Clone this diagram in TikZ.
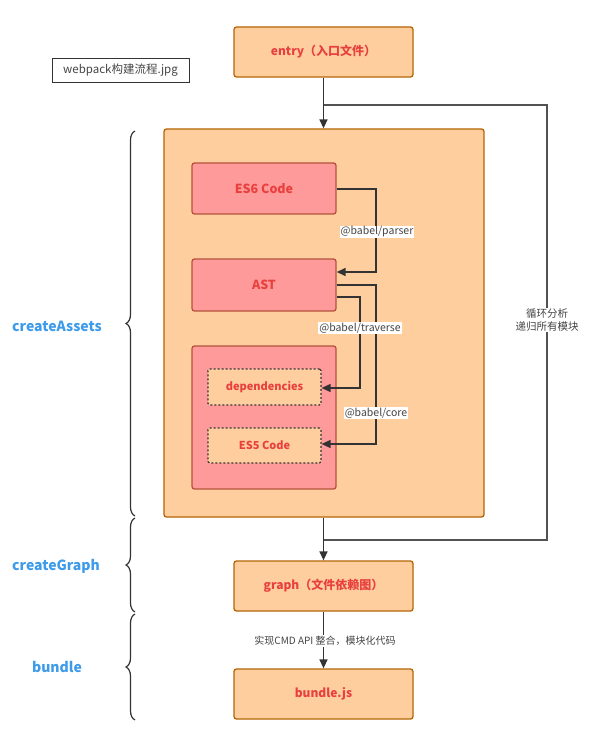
\documentclass[tikz,border=0pt]{standalone}
\usepackage{fontspec}
\setmainfont{Noto Sans CJK SC}
\usetikzlibrary{decorations.pathreplacing,arrows.meta}
\definecolor{ofill}{HTML}{FFCE9F}
\definecolor{odraw}{HTML}{B46504}
\definecolor{rfill}{HTML}{FF9A9A}
\definecolor{rdraw}{HTML}{B5533C}
\definecolor{rtext}{HTML}{E8403F}
\definecolor{btext}{HTML}{3D9BE9}
\definecolor{ln}{HTML}{333333}
\definecolor{gtxt}{HTML}{444444}
\tikzset{
  obox/.style={draw=odraw, fill=ofill, line width=1.3pt, rounded corners=2.5pt, inner sep=0pt, font=\fontsize{12}{14}\selectfont\bfseries, text=rtext},
  rbox/.style={draw=rdraw, fill=rfill, line width=1.3pt, rounded corners=2.5pt, inner sep=0pt, font=\fontsize{12.5}{14}\selectfont\bfseries, text=rtext},
  dbox/.style={draw=ln, fill=ofill, line width=1.2pt, dash pattern=on 2pt off 2pt, rounded corners=1.5pt, inner sep=0pt, font=\fontsize{11}{13}\selectfont\bfseries, text=rtext},
  arr/.style={draw=ln, line width=1.4pt, -{Triangle[length=9pt,width=8pt]}},
  plain/.style={draw=ln, line width=1.4pt},
  loopline/.style={draw=ln!85, line width=1.2pt},
  lbl/.style={fill=white, inner sep=1pt, text=gtxt, font=\fontsize{10.5}{12}\selectfont},
  side/.style={text=btext, font=\fontsize{14}{16}\selectfont\bfseries},
  brc/.style={draw=ln, line width=1.2pt, decorate, decoration={brace, amplitude=9pt}},
}
\begin{document}
\begin{tikzpicture}[x=1pt,y=-1pt]
\useasboundingbox (0,0) rectangle (591,730);
% title label
\node[draw=ln, line width=0.8pt, minimum width=137pt, minimum height=24pt, inner sep=0pt, text=gtxt, font=\fontsize{11.5}{13}\selectfont] (title) at (120.5,70) {webpack构建流程.jpg};
% main chain
\node[obox, minimum width=179pt, minimum height=50pt] (entry) at (323.5,52) {entry（入口文件）};
\node[obox, minimum width=320pt, minimum height=388pt] (big) at (324,323) {};
\node[rbox, minimum width=144pt, minimum height=51pt] (es6) at (264,188.5) {ES6 Code};
\node[rbox, minimum width=144pt, minimum height=52pt] (ast) at (264,285) {AST};
\node[rbox, minimum width=144pt, minimum height=143pt] (inner) at (264,417.5) {};
\node[dbox, minimum width=113pt, minimum height=36pt] (deps) at (264.5,387) {dependencies};
\node[dbox, minimum width=113pt, minimum height=35pt] (es5) at (264.5,445.5) {ES5 Code};
\node[obox, minimum width=179pt, minimum height=50pt] (graph) at (323.5,586) {graph（文件依赖图）};
\node[obox, minimum width=179pt, minimum height=50pt] (bundle) at (323.5,694) {bundle.js};
% coordinates
\coordinate (lp1) at (323.5,105);
\coordinate (lp2) at (323.5,540);
% loop
\draw[loopline] (lp1) -- (547,105) -- (547,540) -- (lp2);
\node[lbl, align=center, font=\fontsize{10.5}{13}\selectfont] (looplbl) at (547,320) {循环分析\\递归所有模块};
% arrows
\draw[arr] (entry.south) -- (entry.south |- big.north);
\draw[arr] (es6.east |- 0,189) -- (376,189) -- (376,272) -- (ast.east |- 0,272);
\draw[arr] (ast.east |- 0,285) -- (376,285) -- (376,444) -- (es5.east |- 0,444);
\draw[arr] (ast.east |- 0,297) -- (360,297) -- (360,388) -- (deps.east |- 0,388);
\node[lbl] (p1) at (377,232) {@babel/parser};
\node[lbl] (p2) at (360,328) {@babel/traverse};
\node[lbl] (p3) at (376,413) {@babel/core};
\draw[arr] (big.south -| lp2) -- (graph.north);
\draw[arr] (graph.south) -- (bundle.north);
\node[lbl, font=\fontsize{10}{12}\selectfont] (cmd) at (325,641) {实现CMD API 整合，模块化代码};
% braces and side labels
\draw[brc] (135,516) -- (135,131);
\draw[brc] (135,612) -- (135,518);
\draw[brc] (135,720) -- (135,614);
\node[side] (ca) at (57,326) {createAssets};
\node[side] (cg) at (56,566) {createGraph};
\node[side] (bd) at (57,667) {bundle};
\end{tikzpicture}
\end{document}
